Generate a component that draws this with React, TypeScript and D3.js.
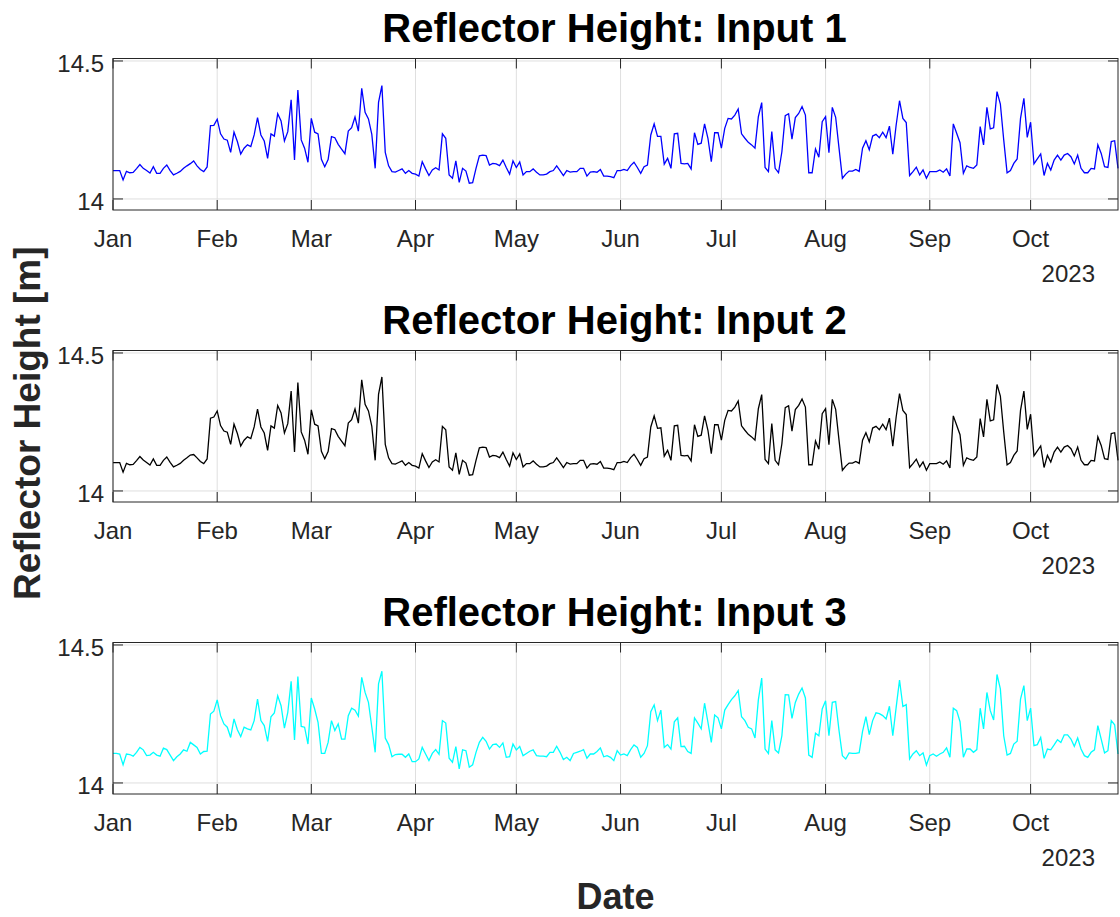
import React from "react";
import * as d3 from "d3";

// Daily reflector height estimates, 1 Jan 2023 onward (metres)
const startDate = new Date(2023, 0, 1);

const input1: number[] = [
  14.103, 14.103, 14.103, 14.069, 14.100, 14.095, 14.096, 14.110, 14.125, 14.111,
  14.103, 14.094, 14.117, 14.093, 14.093, 14.111, 14.123, 14.103, 14.087, 14.093,
  14.100, 14.111, 14.120, 14.128, 14.138, 14.120, 14.107, 14.099, 14.116, 14.266,
  14.267, 14.289, 14.236, 14.217, 14.213, 14.169, 14.242, 14.208, 14.163, 14.184,
  14.196, 14.190, 14.232, 14.295, 14.232, 14.210, 14.147, 14.236, 14.228, 14.309,
  14.283, 14.210, 14.244, 14.359, 14.141, 14.395, 14.214, 14.184, 14.133, 14.292,
  14.242, 14.236, 14.144, 14.117, 14.143, 14.226, 14.222, 14.198, 14.181, 14.164,
  14.246, 14.258, 14.297, 14.246, 14.401, 14.314, 14.290, 14.234, 14.111, 14.350,
  14.411, 14.169, 14.120, 14.099, 14.097, 14.103, 14.109, 14.093, 14.103, 14.093,
  14.090, 14.083, 14.135, 14.109, 14.085, 14.105, 14.113, 14.105, 14.236, 14.220,
  14.087, 14.075, 14.138, 14.060, 14.111, 14.101, 14.057, 14.059, 14.111, 14.156,
  14.159, 14.157, 14.123, 14.129, 14.127, 14.121, 14.141, 14.114, 14.090, 14.138,
  14.114, 14.134, 14.087, 14.099, 14.099, 14.109, 14.097, 14.087, 14.087, 14.090,
  14.099, 14.103, 14.120, 14.103, 14.085, 14.103, 14.097, 14.099, 14.099, 14.111,
  14.111, 14.083, 14.097, 14.099, 14.097, 14.107, 14.083, 14.083, 14.081, 14.077,
  14.103, 14.103, 14.107, 14.103, 14.121, 14.133, 14.114, 14.093, 14.117, 14.123,
  14.232, 14.272, 14.227, 14.227, 14.126, 14.147, 14.111, 14.236, 14.238, 14.129,
  14.127, 14.129, 14.109, 14.240, 14.198, 14.202, 14.272, 14.220, 14.135, 14.240,
  14.240, 14.184, 14.256, 14.292, 14.290, 14.304, 14.326, 14.236, 14.220, 14.205,
  14.196, 14.184, 14.298, 14.349, 14.114, 14.099, 14.244, 14.111, 14.095, 14.171,
  14.302, 14.309, 14.217, 14.295, 14.310, 14.335, 14.304, 14.095, 14.095, 14.181,
  14.151, 14.280, 14.298, 14.168, 14.332, 14.296, 14.184, 14.075, 14.090, 14.101,
  14.101, 14.107, 14.100, 14.184, 14.211, 14.178, 14.228, 14.234, 14.222, 14.242,
  14.222, 14.264, 14.162, 14.268, 14.356, 14.292, 14.277, 14.085, 14.099, 14.115,
  14.087, 14.105, 14.075, 14.099, 14.099, 14.099, 14.105, 14.097, 14.109, 14.083,
  14.272, 14.238, 14.204, 14.093, 14.120, 14.114, 14.111, 14.123, 14.262, 14.196,
  14.332, 14.254, 14.258, 14.389, 14.344, 14.214, 14.095, 14.103, 14.129, 14.145,
  14.292, 14.365, 14.223, 14.278, 14.127, 14.145, 14.163, 14.085, 14.129, 14.105,
  14.141, 14.159, 14.141, 14.159, 14.165, 14.153, 14.127, 14.159, 14.111, 14.095,
  14.095, 14.111, 14.109, 14.196, 14.165, 14.117, 14.114, 14.208, 14.211, 14.111,
];

const input2: number[] = [
  14.103, 14.103, 14.103, 14.068, 14.100, 14.095, 14.096, 14.110, 14.125, 14.112,
  14.103, 14.094, 14.116, 14.093, 14.093, 14.111, 14.123, 14.104, 14.087, 14.093,
  14.100, 14.111, 14.120, 14.130, 14.132, 14.120, 14.107, 14.099, 14.116, 14.264,
  14.268, 14.290, 14.237, 14.217, 14.213, 14.169, 14.242, 14.208, 14.163, 14.184,
  14.196, 14.190, 14.232, 14.297, 14.232, 14.210, 14.147, 14.236, 14.228, 14.310,
  14.283, 14.210, 14.244, 14.362, 14.141, 14.393, 14.214, 14.184, 14.133, 14.294,
  14.242, 14.236, 14.144, 14.117, 14.143, 14.226, 14.222, 14.198, 14.181, 14.164,
  14.246, 14.258, 14.297, 14.246, 14.403, 14.314, 14.290, 14.234, 14.111, 14.350,
  14.413, 14.169, 14.120, 14.099, 14.097, 14.103, 14.109, 14.093, 14.103, 14.093,
  14.090, 14.083, 14.135, 14.109, 14.085, 14.105, 14.113, 14.105, 14.234, 14.222,
  14.087, 14.075, 14.138, 14.060, 14.111, 14.101, 14.057, 14.059, 14.111, 14.156,
  14.159, 14.157, 14.123, 14.129, 14.127, 14.121, 14.141, 14.114, 14.090, 14.138,
  14.114, 14.134, 14.087, 14.099, 14.099, 14.109, 14.097, 14.087, 14.087, 14.090,
  14.099, 14.103, 14.120, 14.103, 14.085, 14.103, 14.097, 14.099, 14.099, 14.111,
  14.111, 14.083, 14.097, 14.099, 14.097, 14.107, 14.083, 14.083, 14.081, 14.077,
  14.103, 14.103, 14.107, 14.103, 14.121, 14.133, 14.114, 14.093, 14.117, 14.123,
  14.232, 14.272, 14.227, 14.229, 14.126, 14.147, 14.111, 14.236, 14.238, 14.129,
  14.127, 14.129, 14.109, 14.240, 14.198, 14.202, 14.272, 14.220, 14.135, 14.240,
  14.240, 14.184, 14.256, 14.292, 14.290, 14.304, 14.326, 14.236, 14.220, 14.205,
  14.196, 14.184, 14.298, 14.349, 14.114, 14.099, 14.244, 14.111, 14.095, 14.171,
  14.302, 14.309, 14.217, 14.295, 14.310, 14.333, 14.304, 14.095, 14.095, 14.181,
  14.151, 14.280, 14.298, 14.168, 14.332, 14.296, 14.184, 14.075, 14.090, 14.101,
  14.101, 14.107, 14.100, 14.184, 14.211, 14.178, 14.228, 14.234, 14.222, 14.242,
  14.222, 14.264, 14.162, 14.268, 14.353, 14.292, 14.277, 14.085, 14.099, 14.115,
  14.087, 14.105, 14.075, 14.099, 14.099, 14.099, 14.105, 14.097, 14.109, 14.083,
  14.272, 14.238, 14.204, 14.093, 14.120, 14.114, 14.111, 14.123, 14.262, 14.196,
  14.332, 14.254, 14.258, 14.386, 14.344, 14.214, 14.095, 14.103, 14.129, 14.145,
  14.292, 14.362, 14.223, 14.278, 14.127, 14.145, 14.163, 14.085, 14.129, 14.105,
  14.141, 14.159, 14.141, 14.159, 14.165, 14.153, 14.127, 14.159, 14.111, 14.095,
  14.095, 14.111, 14.109, 14.196, 14.165, 14.117, 14.114, 14.208, 14.211, 14.111,
];

const input3: number[] = [
  14.107, 14.107, 14.105, 14.066, 14.105, 14.103, 14.097, 14.111, 14.129, 14.120,
  14.099, 14.101, 14.111, 14.101, 14.097, 14.126, 14.121, 14.101, 14.081, 14.095,
  14.105, 14.120, 14.115, 14.147, 14.138, 14.129, 14.105, 14.114, 14.115, 14.250,
  14.260, 14.301, 14.244, 14.214, 14.202, 14.165, 14.232, 14.193, 14.168, 14.202,
  14.196, 14.192, 14.226, 14.304, 14.226, 14.208, 14.151, 14.240, 14.254, 14.316,
  14.280, 14.199, 14.256, 14.368, 14.156, 14.386, 14.205, 14.202, 14.141, 14.308,
  14.268, 14.220, 14.107, 14.107, 14.147, 14.226, 14.190, 14.214, 14.159, 14.159,
  14.244, 14.271, 14.264, 14.242, 14.383, 14.328, 14.292, 14.202, 14.111, 14.359,
  14.405, 14.163, 14.139, 14.095, 14.103, 14.104, 14.104, 14.093, 14.105, 14.077,
  14.077, 14.087, 14.129, 14.105, 14.081, 14.107, 14.121, 14.104, 14.226, 14.217,
  14.090, 14.075, 14.132, 14.051, 14.120, 14.117, 14.057, 14.066, 14.111, 14.147,
  14.165, 14.151, 14.123, 14.139, 14.141, 14.129, 14.145, 14.093, 14.095, 14.141,
  14.120, 14.132, 14.099, 14.107, 14.115, 14.120, 14.099, 14.097, 14.097, 14.095,
  14.111, 14.111, 14.133, 14.111, 14.085, 14.093, 14.081, 14.107, 14.111, 14.115,
  14.121, 14.090, 14.105, 14.105, 14.114, 14.127, 14.095, 14.099, 14.093, 14.081,
  14.117, 14.101, 14.105, 14.099, 14.121, 14.138, 14.129, 14.093, 14.107, 14.135,
  14.258, 14.283, 14.226, 14.264, 14.129, 14.139, 14.123, 14.222, 14.236, 14.132,
  14.133, 14.114, 14.107, 14.236, 14.217, 14.196, 14.289, 14.220, 14.147, 14.246,
  14.236, 14.196, 14.264, 14.284, 14.302, 14.316, 14.335, 14.240, 14.226, 14.202,
  14.196, 14.163, 14.301, 14.380, 14.123, 14.107, 14.226, 14.120, 14.109, 14.171,
  14.320, 14.319, 14.234, 14.292, 14.322, 14.344, 14.308, 14.101, 14.093, 14.180,
  14.171, 14.268, 14.298, 14.171, 14.292, 14.295, 14.190, 14.099, 14.087, 14.109,
  14.107, 14.107, 14.110, 14.187, 14.240, 14.175, 14.226, 14.254, 14.251, 14.244,
  14.232, 14.278, 14.171, 14.274, 14.373, 14.277, 14.284, 14.087, 14.105, 14.117,
  14.099, 14.109, 14.065, 14.099, 14.105, 14.097, 14.105, 14.111, 14.127, 14.093,
  14.271, 14.262, 14.222, 14.093, 14.123, 14.123, 14.111, 14.121, 14.271, 14.196,
  14.328, 14.262, 14.228, 14.393, 14.341, 14.171, 14.101, 14.107, 14.141, 14.151,
  14.304, 14.353, 14.226, 14.271, 14.135, 14.139, 14.165, 14.089, 14.123, 14.120,
  14.138, 14.157, 14.147, 14.174, 14.174, 14.159, 14.133, 14.163, 14.123, 14.099,
  14.093, 14.111, 14.120, 14.208, 14.159, 14.109, 14.117, 14.226, 14.211, 14.105,
];

const panelTitles = [
  "Reflector Height: Input 1",
  "Reflector Height: Input 2",
  "Reflector Height: Input 3",
];
const panelColors = ["#0000ff", "#000000", "#00ffff"];
const panelSeries = [input1, input2, input3];
const yTickValues = [14, 14.5];
const yTickLabels = ["14", "14.5"];
const yLimits: [number, number] = [13.96, 14.509];
const yearLabel = "2023";
const xAxisLabel = "Date";
const yAxisLabel = "Reflector Height [m]";

const W = 1120;
const H = 917;
const FONT = "'Liberation Sans', Arial, Helvetica, sans-serif";
const AXIS_COLOR = "#262626";
const GRID_COLOR = "#dfdfdf";

const left = 113;
const right = 1118;
const firstTop = 58.5;
const panelHeight = 151.5;
const panelStep = 292;
const tickLen = 10;

function Panel({ index }: { index: number }) {
  const values = panelSeries[index];
  const dates = values.map((_, i) => d3.timeDay.offset(startDate, i));
  const endDate = dates[dates.length - 1];
  const top = firstTop + index * panelStep;
  const bottom = top + panelHeight;

  const x = d3.scaleTime().domain([startDate, endDate]).range([left, right]);
  const y = d3.scaleLinear().domain(yLimits).range([bottom, top]);

  const monthTicks = d3.timeMonth
    .range(startDate, d3.timeDay.offset(endDate, 1))
    .filter((m) => m >= startDate && m <= endDate);
  const fmt = d3.timeFormat("%b");

  const line = d3
    .line<number>()
    .x((_, i) => x(dates[i]))
    .y((v) => y(v));

  return (
    <g>
      {/* grid */}
      {monthTicks.map((m, i) => (
        <line
          key={"gx" + i}
          x1={x(m)}
          x2={x(m)}
          y1={top}
          y2={bottom}
          stroke={GRID_COLOR}
          strokeWidth={1}
        />
      ))}
      {yTickValues.map((v, i) => (
        <line
          key={"gy" + i}
          x1={left}
          x2={right}
          y1={y(v)}
          y2={y(v)}
          stroke={GRID_COLOR}
          strokeWidth={1}
        />
      ))}

      {/* data */}
      <path
        d={line(values) || ""}
        fill="none"
        stroke={panelColors[index]}
        strokeWidth={1.3}
        strokeLinejoin="miter"
      />

      {/* ticks, mirrored on all four sides */}
      {monthTicks.map((m, i) => (
        <g key={"tx" + i}>
          <line x1={x(m)} x2={x(m)} y1={bottom} y2={bottom - tickLen} stroke={AXIS_COLOR} strokeWidth={1} />
          <line x1={x(m)} x2={x(m)} y1={top} y2={top + tickLen} stroke={AXIS_COLOR} strokeWidth={1} />
          <text
            x={x(m)}
            y={bottom + 37}
            textAnchor="middle"
            fontFamily={FONT}
            fontSize={24}
            fill={AXIS_COLOR}
          >
            {fmt(m)}
          </text>
        </g>
      ))}
      {yTickValues.map((v, i) => (
        <g key={"ty" + i}>
          <line x1={left} x2={left + tickLen} y1={y(v)} y2={y(v)} stroke={AXIS_COLOR} strokeWidth={1} />
          <line x1={right} x2={right - tickLen} y1={y(v)} y2={y(v)} stroke={AXIS_COLOR} strokeWidth={1} />
          <text
            x={left - 9}
            y={y(v) + 11}
            textAnchor="end"
            fontFamily={FONT}
            fontSize={24}
            fill={AXIS_COLOR}
          >
            {yTickLabels[i]}
          </text>
        </g>
      ))}

      {/* box */}
      <rect
        x={left}
        y={top}
        width={right - left}
        height={panelHeight}
        fill="none"
        stroke={AXIS_COLOR}
        strokeWidth={1}
      />

      <text
        x={right - 23}
        y={bottom + 72}
        textAnchor="end"
        fontFamily={FONT}
        fontSize={24}
        fill={AXIS_COLOR}
      >
        {yearLabel}
      </text>

      <text
        x={(left + right) / 2 - 1}
        y={top - 17}
        textAnchor="middle"
        fontFamily={FONT}
        fontSize={40}
        fontWeight="bold"
        fill="#000000"
      >
        {panelTitles[index]}
      </text>
    </g>
  );
}

export default function App() {
  const lastBottom = firstTop + 2 * panelStep + panelHeight;
  const midY = (firstTop + lastBottom) / 2 - 3;
  return (
    <svg
      width={W}
      height={H}
      viewBox={`0 0 ${W} ${H}`}
      style={{ position: "absolute", left: 0, top: 0, background: "#ffffff" }}
    >
      <rect x={0} y={0} width={W} height={H} fill="#ffffff" />
      {panelSeries.map((_, i) => (
        <Panel key={i} index={i} />
      ))}
      <text
        x={(left + right) / 2}
        y={909}
        textAnchor="middle"
        fontFamily={FONT}
        fontSize={36}
        fontWeight="bold"
        fill={AXIS_COLOR}
      >
        {xAxisLabel}
      </text>
      <text
        transform={`translate(40, ${midY}) rotate(-90)`}
        textAnchor="middle"
        fontFamily={FONT}
        fontSize={37}
        fontWeight="bold"
        fill={AXIS_COLOR}
      >
        {yAxisLabel}
      </text>
    </svg>
  );
}
